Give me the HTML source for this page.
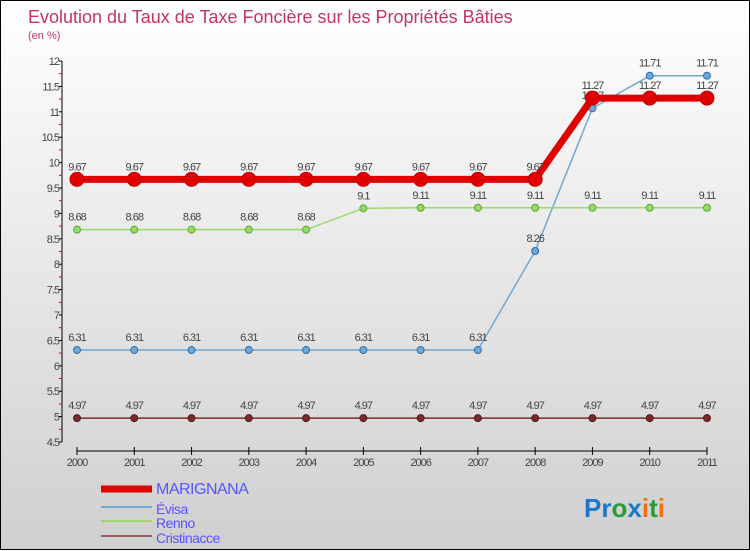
<!DOCTYPE html>
<html><head><meta charset="utf-8"><style>
body{margin:0;width:750px;height:550px;overflow:hidden;font-family:"Liberation Sans",sans-serif}
#wrap{position:relative;width:748px;height:548px;border:1px solid #000;background:linear-gradient(#ffffff,#cfcfcf)}
svg{position:absolute;left:0;top:0}
</style></head><body>
<div id="wrap">
<svg id="c" width="750" height="550">
<text x="27" y="22" font-size="18" fill="#c2365f">Evolution du Taux de Taxe Foncière sur les Propriétés Bâties</text>
<text x="27" y="38" font-size="11" fill="#c2365f">(en %)</text>
</svg>
</div>
<script>
const years=["2000","2001","2002","2003","2004","2005","2006","2007","2008","2009","2010","2011"];
const yTicks=[4.5,5,5.5,6,6.5,7,7.5,8,8.5,9,9.5,10,10.5,11,11.5,12];
const marignana=[9.67,9.67,9.67,9.67,9.67,9.67,9.67,9.67,9.67,11.27,11.27,11.27];
const evisa=[6.31,6.31,6.31,6.31,6.31,6.31,6.31,6.31,8.26,11.07,11.71,11.71];
const renno=[8.68,8.68,8.68,8.68,8.68,9.1,9.11,9.11,9.11,9.11,9.11,9.11];
const cristinacce=[4.97,4.97,4.97,4.97,4.97,4.97,4.97,4.97,4.97,4.97,4.97,4.97];
const NS="http://www.w3.org/2000/svg",svg=document.getElementById('c');
const X=i=>76+i*57.27, Y=v=>60+(12-v)*50.8;
function mk(t,a,p){const e=document.createElementNS(NS,t);for(const k in a)e.setAttribute(k,a[k]);(p||svg).appendChild(e);return e;}
// axes
let ax=mk('line',{x1:61,y1:60,x2:61,y2:441,stroke:'#000','stroke-width':1});

yTicks.forEach((v,i)=>{mk('line',{x1:58,x2:61,y1:Y(v),y2:Y(v),stroke:'#000'});
 if(i<yTicks.length-1)mk('line',{x1:58,x2:61,y1:Y(v+0.25),y2:Y(v+0.25),stroke:'#e00'});
 const t=mk('text',{x:58,y:Y(v)+4,'text-anchor':'end','font-size':11,fill:'#444','letter-spacing':'-1'});t.textContent=v;
 });
let xa=mk('line',{x1:X(0),y1:450,x2:X(11),y2:450,stroke:'#000'});

years.forEach((y,i)=>{mk('line',{x1:X(i),x2:X(i),y1:446,y2:454,stroke:'#000'});
 const t=mk('text',{x:X(i),y:465,'text-anchor':'middle','font-size':11,fill:'#444','letter-spacing':'-1'});t.textContent=y;
 });
function series(d,col,w,r,name,dark){
 const g=mk('g',{});
 mk('polyline',{points:d.map((v,i)=>X(i)+','+Y(v)).join(' '),fill:'none',stroke:col,'stroke-width':w},g);
 d.forEach((v,i)=>{const c=mk('circle',{cx:X(i),cy:Y(v),r:r,fill:col,stroke:dark,'stroke-width':1},g);
  
  const t=mk('text',{x:X(i),y:Y(v)-9,'text-anchor':'middle','font-size':11,fill:'#444','letter-spacing':'-1'},g);t.textContent=v;
  });
}
series(cristinacce,'#7a2a2a',1.5,3.5,'cristinacce','#5a1a1a');
series(evisa,'#6fa8d6',1.5,3.5,'evisa','#2a6ea8');
series(renno,'#9ad86a',1.5,3.5,'renno','#5aa830');
series(marignana,'#e00000',7,7,'marignana','#c00000');
// legend
const leg=[['MARIGNANA','#e00000',7,16],['Évisa','#6fa8d6',2,14],['Renno','#9ad86a',2,14],['Cristinacce','#9a6060',2,14]];
const ly=[493,510,524,539];
leg.forEach((l,i)=>{const g=mk('g',{});
 mk('line',{x1:100,x2:151,y1:ly[i]-5+(i?1:0),y2:ly[i]-5+(i?1:0),stroke:l[1],'stroke-width':l[2]},g);
 const t=mk('text',{x:155,y:ly[i]+(i?3:0),'font-size':l[3],fill:'#5555ff','letter-spacing':'-0.5'},g);t.textContent=l[0];});
const p=mk('text',{x:583,y:516,'font-size':26,'font-weight':'bold'});

[['Pr','#1a78c8'],['o','#2a9a3a'],['x','#1a78c8'],['i','#f07010'],['t','#2a9a3a'],['i','#f07010']].forEach(s=>{const ts=mk('tspan',{fill:s[1]},p);ts.textContent=s[0];});
</script>
</body></html>
